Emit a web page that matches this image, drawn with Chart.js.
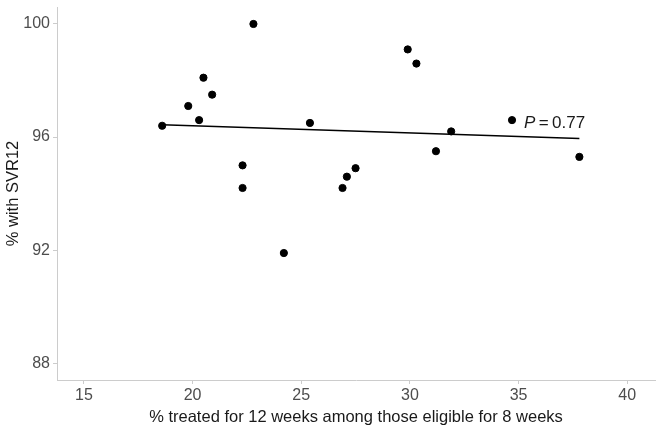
<!DOCTYPE html>
<html lang="en">
<head>
  <meta charset="UTF-8" />
  <title>SVR12 vs 12-week treatment</title>
  <style>
    * { box-sizing: border-box; margin: 0; padding: 0; }
    body, html { width: 663px; height: 432px; background: #fff; overflow: hidden; }
    #wrap { position: relative; width: 663px; height: 432px; }
  </style>
</head>
<body>
  <div id="wrap"><canvas id="svrChart"></canvas></div>

  <script src="https://cdn.jsdelivr.net/npm/chart.js"></script>
  <script>
    // values
    const pctTreated12 = [18.6, 19.8, 20.3, 20.5, 20.9, 22.3, 22.3, 22.8, 24.2, 25.4,
                          26.9, 27.1, 27.5, 29.9, 30.3, 31.2, 31.9, 34.7, 37.8];
    const pctSVR12     = [96.4, 97.1, 96.6, 98.1, 97.5, 95.0, 94.2, 100.0, 91.9, 96.5,
                          94.2, 94.6, 94.9, 99.1, 98.6, 95.5, 96.2, 96.6, 95.3];
    const trendX = [18.6, 37.8];
    const trendY = [96.44, 95.95];
    const xTicks = [15, 20, 25, 30, 35, 40];
    const yTicks = [88, 92, 96, 100];
    const pLabel = { x: 35.25, y: 96.5, text: '\u2009=\u20090.77' };

    const points = pctTreated12.map((x, i) => ({ x: x, y: pctSVR12[i] }));
    const trend = trendX.map((x, i) => ({ x: x, y: trendY[i] }));

    const pValuePlugin = {
      id: 'pValue',
      afterDatasetsDraw(chart) {
        const { ctx, scales } = chart;
        const px = scales.x.getPixelForValue(pLabel.x);
        const py = scales.y.getPixelForValue(pLabel.y);
        ctx.save();
        ctx.fillStyle = '#1a1a1a';
        ctx.textBaseline = 'middle';
        ctx.font = 'italic 17px "Liberation Sans", Arial, sans-serif';
        ctx.fillText('P', px, py);
        const w = ctx.measureText('P').width;
        ctx.font = '17px "Liberation Sans", Arial, sans-serif';
        ctx.fillText(pLabel.text, px + w, py);
        ctx.restore();
      }
    };

    const axisColor = '#cccccc';
    const fam = '"Liberation Sans", Arial, sans-serif';

    new Chart(document.getElementById('svrChart'), {
      type: 'scatter',
      data: {
        datasets: [
          {
            type: 'line',
            data: trend,
            borderColor: '#000',
            borderWidth: 1.5,
            pointRadius: 0,
            fill: false
          },
          {
            data: points,
            backgroundColor: '#000',
            borderColor: '#000',
            pointRadius: 3.6,
            pointHoverRadius: 3.6
          }
        ]
      },
      options: {
        responsive: true,
        maintainAspectRatio: false,
        animation: false,
        layout: { padding: { top: 7, right: 8, left: 0, bottom: 0 } },
        plugins: { legend: { display: false }, tooltip: { enabled: false } },
        scales: {
          x: {
            type: 'linear',
            min: 13.76,
            max: 41.28,
            afterBuildTicks: axis => { axis.ticks = xTicks.map(v => ({ value: v })); },
            afterFit: axis => { axis.height = 52; },
            grid: { drawOnChartArea: false, drawTicks: true, tickLength: 4, color: axisColor },
            border: { display: true, color: axisColor, width: 1 },
            ticks: { color: '#4d4d4d', font: { family: fam, size: 16 }, padding: 2, maxRotation: 0 },
            title: {
              display: true,
              text: '% treated for 12 weeks among those eligible for 8 weeks',
              color: '#1a1a1a',
              font: { family: fam, size: 16.5 },
              padding: { top: 1, bottom: 4.5 }
            }
          },
          y: {
            min: 87.41,
            max: 100.6,
            afterBuildTicks: axis => { axis.ticks = yTicks.map(v => ({ value: v })); },
            afterFit: axis => { axis.width = 57; },
            grid: { drawOnChartArea: false, drawTicks: true, tickLength: 4, color: axisColor },
            border: { display: true, color: axisColor, width: 1 },
            ticks: { color: '#4d4d4d', font: { family: fam, size: 16, lineHeight: 0.5 }, padding: 3 },
            title: {
              display: true,
              text: '% with SVR12',
              color: '#1a1a1a',
              font: { family: fam, size: 16.5 },
              padding: { top: 4, bottom: 4 }
            }
          }
        }
      },
      plugins: [pValuePlugin]
    });
  </script>
</body>
</html>
